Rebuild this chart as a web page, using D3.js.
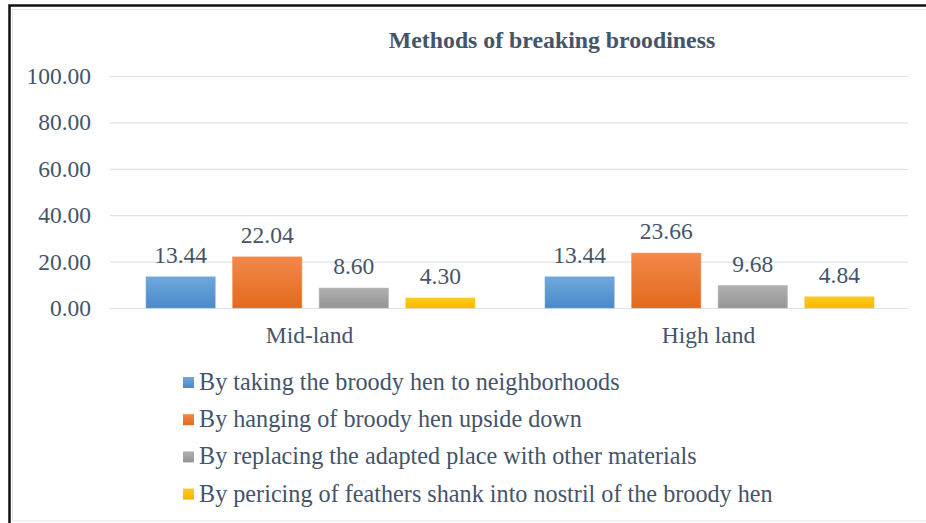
<!DOCTYPE html>
<html><head><meta charset="utf-8">
<script src="https://cdn.jsdelivr.net/npm/d3@7"></script>
<style>body{margin:0;background:#fff}svg{display:block}</style>
</head><body>
<svg id="c" width="926" height="523"></svg>
<script>
const categories = ["Mid-land", "High land"];
const seriesNames = [
  "By taking the broody hen to neighborhoods",
  "By hanging of broody hen upside down",
  "By replacing the adapted place with other materials",
  "By pericing of feathers shank into nostril of the broody hen"
];
const midLand = [13.44, 22.04, 8.60, 4.30];
const highLand = [13.44, 23.66, 9.68, 4.84];
const yTicks = [0, 20, 40, 60, 80, 100];
const title = "Methods of breaking broodiness";
const colors = [["#6fa8dc","#4a89c9"],["#f2884a","#e26a1c"],["#b0b0b0","#959595"],["#ffc91f","#f5b800"]];

const values = [midLand, highLand];
const svg = d3.select("#c");
const txt = "#44546a";
const FF = '"Liberation Serif"';
const FS = "23.5px";

// frame
svg.append("rect").attr("x",12.5).attr("y",9.5).attr("width",960).attr("height",511.5)
  .attr("fill","none").attr("stroke","#e3e6ea").attr("stroke-width",1);
svg.append("path").attr("d","M9.5,530 V5.5 H940").attr("fill","none").attr("stroke","#111").attr("stroke-width",2.5);

const defs = svg.append("defs");
colors.forEach((c,i)=>{
  const g = defs.append("linearGradient").attr("id","g"+i).attr("x1",0).attr("y1",0).attr("x2",0).attr("y2",1);
  g.append("stop").attr("offset","0%").attr("stop-color",c[0]);
  g.append("stop").attr("offset","100%").attr("stop-color",c[1]);
});

const y = d3.scaleLinear().domain([0,100]).range([308,76]);
const x0 = d3.scaleBand().domain(categories).range([110,908]).paddingInner(0).paddingOuter(0);
const x1 = d3.scaleBand().domain(d3.range(4)).range([36, x0.bandwidth()-34]).paddingInner(0.2).paddingOuter(0);

// gridlines
svg.append("g").selectAll("line").data(yTicks).join("line")
  .attr("x1",110).attr("x2",908).attr("y1",d=>y(d)+0.5).attr("y2",d=>y(d)+0.5)
  .attr("stroke","#dde3ea").attr("stroke-width",1.2);

// y labels
svg.append("g").selectAll("text").data(yTicks).join("text")
  .attr("x",91).attr("y",d=>y(d)+8).attr("text-anchor","end")
  .style("font-family",FF).style("font-size",FS).attr("fill",txt)
  .text(d=>d3.format(".2f")(d));

// title
svg.append("text").attr("x",552).attr("y",48).attr("text-anchor","middle")
  .style("font-family",FF).style("font-weight","bold").style("font-size","23.8px").attr("fill",txt)
  .text(title);

// bars
const groups = svg.append("g").selectAll("g").data(categories).join("g")
  .attr("transform",d=>`translate(${x0(d)},0)`);
groups.selectAll("rect").data((d,ci)=>values[ci].map((v,i)=>({v,i}))).join("rect")
  .attr("x",d=>x1(d.i)).attr("width",x1.bandwidth())
  .attr("y",d=>y(d.v)).attr("height",d=>y(0)-y(d.v))
  .attr("fill",d=>`url(#g${d.i})`).attr("stroke",d=>colors[d.i][0]).attr("stroke-opacity",0.5);
groups.selectAll("text").data((d,ci)=>values[ci].map((v,i)=>({v,i}))).join("text")
  .attr("x",d=>x1(d.i)+x1.bandwidth()/2).attr("y",d=>y(d.v)-14)
  .attr("text-anchor","middle").style("font-family",FF).style("font-size",FS).attr("fill",txt)
  .text(d=>d3.format(".2f")(d.v));

// category labels
svg.append("g").selectAll("text").data(categories).join("text")
  .attr("x",d=>x0(d)+x0.bandwidth()/2).attr("y",343).attr("text-anchor","middle")
  .style("font-family",FF).style("font-size",FS).attr("fill",txt).text(d=>d);

// legend
const lg = svg.append("g").selectAll("g").data(seriesNames).join("g")
  .attr("transform",(d,i)=>`translate(183,${390+i*37.2})`);
lg.append("rect").attr("x",0).attr("y",-13).attr("width",11).attr("height",11)
  .attr("fill",(d,i)=>`url(#g${i})`);
lg.append("text").attr("x",16).attr("y",0)
  .style("font-family",FF).style("font-size","24.2px").attr("fill",txt).text(d=>d);
</script>
</body></html>
